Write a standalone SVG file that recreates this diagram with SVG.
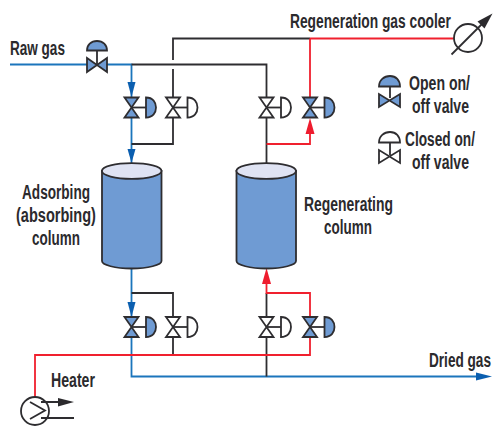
<svg xmlns="http://www.w3.org/2000/svg" width="499" height="429" viewBox="0 0 499 429">
<style>
.t{font-family:"Liberation Sans",Arial,sans-serif;font-weight:700;font-size:21px;fill:#2b2a2d}
.l{fill:none;stroke-width:1.800}
.k{stroke:#2e2d30}.b{stroke:#1b75bc}.r{stroke:#f0202e}
.v{stroke:#2e2d30;stroke-width:1.800;stroke-linejoin:miter}
.o{fill:#6f9bd3}.c{fill:#fff}
.ab{fill:#0b5fb0}.ar{fill:#ee1c2e}.ak{fill:#2b2a2d}
.s{fill:none;stroke:#2e2d30;stroke-width:1.800}
</style>
<defs>
<g id="vo"><path class="s" d="M0 0H15"/><path class="v o" d="M-7-10H7L-7 10H7Z"/><path class="v o" d="M14.500-10C21.500-10 24.500-5 24.500 0C24.500 5 21.500 10 14.500 10Z"/></g>
<g id="vc"><path class="s" d="M0 0H15"/><path class="v c" d="M-7-10H7L-7 10H7Z"/><path class="v c" d="M14.500-10C21.500-10 24.500-5 24.500 0C24.500 5 21.500 10 14.500 10Z"/></g>
</defs>
<g id="connectors">
<path class="l b" d="M10 64.500H87M107 64.500H131.500V97M131.500 117V163"/>
<path class="l k" d="M131.500 64.500H266.500V97M266.500 117V163"/>
<path class="l k" d="M173 60V38.500H310"/>
<path class="l k" d="M173 69V97M173 117V144H131.500"/>
<path class="l r" d="M310 38.500H454M310 38.500V97M266.500 144H310V130"/>
<path class="l b" d="M131.500 268V317M131.500 337V376.500H480"/>
<path class="l k" d="M131.500 293H173V317M173 337V355"/>
<path class="l k" d="M266.500 293V317M266.500 337V376.500"/>
<path class="l r" d="M35 397V355H310V337M310 317V293H266.500V280"/>
<path class="ab" d="M127.500 82H135.500L131.500 97Z"/>
<path class="ab" d="M127.500 149H135.500L131.500 163Z"/>
<path class="ab" d="M127.500 302H135.500L131.500 317Z"/>
<path class="ab" d="M476 372.500V380.500L492 376.500Z"/>
<path class="ar" d="M305.500 134H314.500L310 118Z"/>
<path class="ar" d="M262 284H271L266.500 268Z"/>
</g>
<g id="valve-raw"><path class="s" d="M97 51V64"/><path class="v o" d="M87 58V72L107 58V72Z"/><path class="v o" d="M87 50.500C87 45 91 41 97 41C103 41 107 45 107 50.500Z"/></g>
<use id="valve-1" href="#vo" x="131.500" y="107.500"/>
<use id="valve-2" href="#vc" x="173" y="107.500"/>
<use id="valve-3" href="#vc" x="266.500" y="107.500"/>
<use id="valve-4" href="#vo" x="310" y="107.500"/>
<use id="valve-5" href="#vo" x="131.500" y="327"/>
<use id="valve-6" href="#vc" x="173" y="327"/>
<use id="valve-7" href="#vc" x="266.500" y="327"/>
<use id="valve-8" href="#vo" x="310" y="327"/>
<g id="column-adsorbing"><path class="v o" d="M102 171V261C102 265 115 268.500 131.500 268.500C148 268.500 161.500 265 161.500 261V171Z"/><ellipse class="v" fill="#dfe3f3" cx="131.700" cy="171" rx="29.800" ry="7.800"/></g>
<g id="column-regenerating"><path class="v o" d="M236.500 171V261C236.500 265 250 268.500 266.500 268.500C283 268.500 296 265 296 261V171Z"/><ellipse class="v" fill="#dfe3f3" cx="266.200" cy="171" rx="29.800" ry="7.800"/></g>
<g id="cooler"><circle class="s" cx="468" cy="38" r="14"/><path class="s" d="M451.500 54.500L483 23"/><path class="ak" d="M492.500 13.500L484.500 28.500L477.500 21.500Z"/></g>
<g id="heater"><circle class="s" cx="35" cy="411" r="14"/><path class="s" d="M30 402L45 410.500L30 419M41 402H60M41 418H74"/><path class="ak" d="M58 398V406.500L74 402Z"/></g>
<g id="legend-open"><path class="s" d="M390 87V98"/><path class="v o" d="M379 94V107L400 94V107Z"/><path class="v o" d="M379 86.500C379 80 384 76 390 76C396 76 400 80 400 86.500Z"/></g>
<g id="legend-closed"><path class="s" d="M390 143V155"/><path class="v c" d="M379 150V163L400 150V163Z"/><path class="v c" d="M379 142.500C379 136 384 132 390 132C396 132 400 136 400 142.500Z"/></g>
<g id="labels">
<text class="t" transform="translate(10 55) scale(.645 1)">Raw gas</text>
<text class="t" transform="translate(290 28) scale(.657 1)">Regeneration gas cooler</text>
<text class="t" transform="translate(409 90) scale(.671 1)">Open on/</text>
<text class="t" transform="translate(412 113) scale(.669 1)">off valve</text>
<text class="t" transform="translate(405 146) scale(.652 1)">Closed on/</text>
<text class="t" transform="translate(412 169) scale(.669 1)">off valve</text>
<text class="t" transform="translate(22 199) scale(.648 1)">Adsorbing</text>
<text class="t" transform="translate(16 222) scale(.693 1)">(absorbing)</text>
<text class="t" transform="translate(32 245) scale(.642 1)">column</text>
<text class="t" transform="translate(304 211) scale(.663 1)">Regenerating</text>
<text class="t" transform="translate(324 234) scale(.642 1)">column</text>
<text class="t" transform="translate(429 367) scale(.648 1)">Dried gas</text>
<text class="t" transform="translate(51 387) scale(.673 1)">Heater</text>
</g>
</svg>
